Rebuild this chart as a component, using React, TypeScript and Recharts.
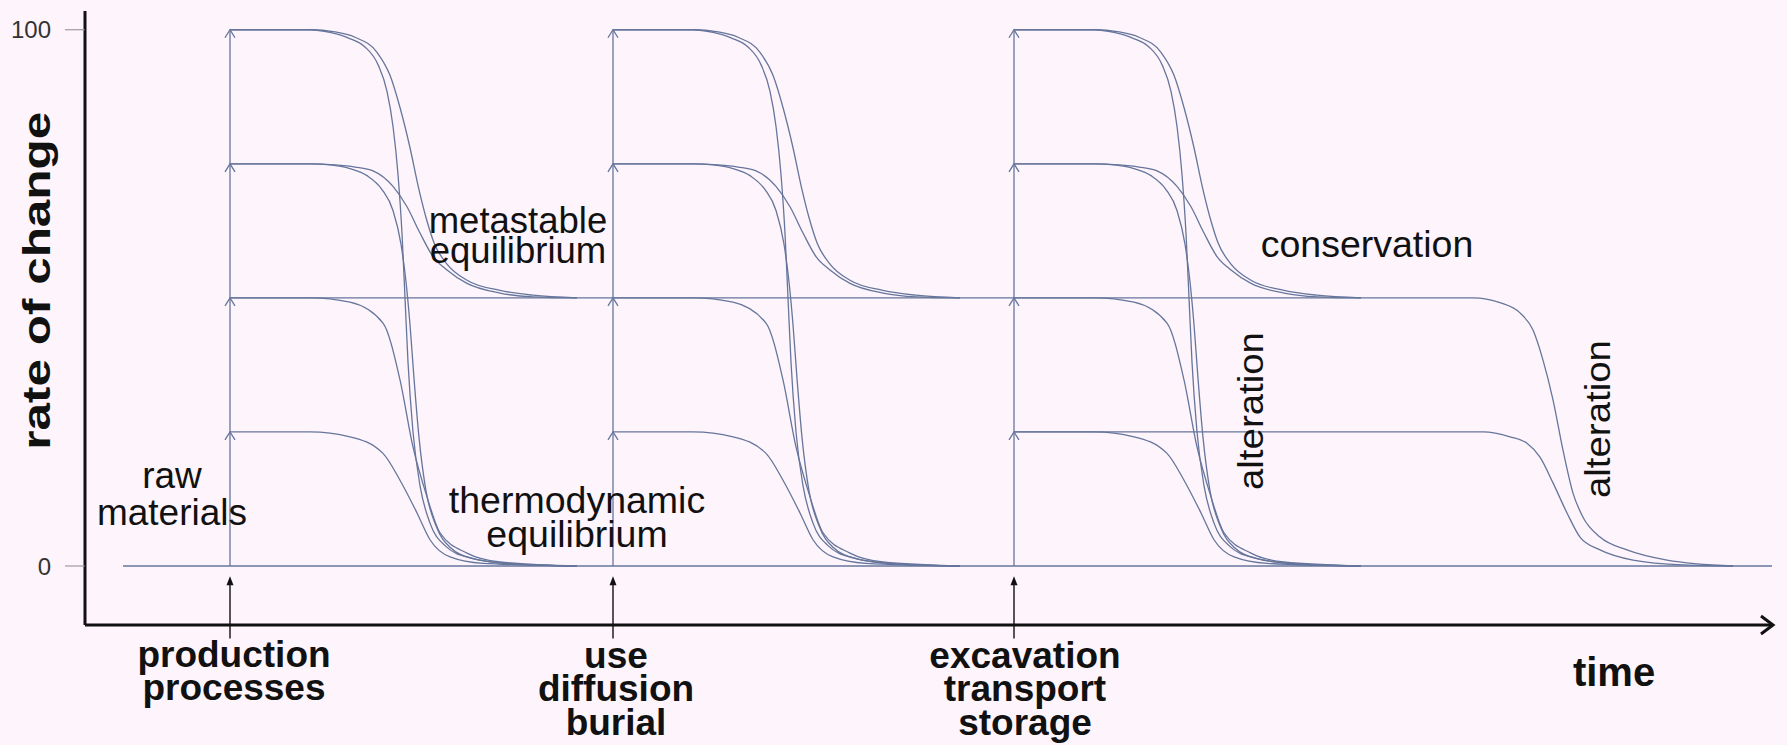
import { LineChart, Line, XAxis, YAxis, ReferenceLine, ReferenceDot } from "recharts";

const CURVE = "#66759c";
const INK = "#111";
const FONT = '"Liberation Sans", Arial, Helvetica, sans-serif';

// time at which each event hits the material (x units)
const eventTimes = [145, 528, 929];
const levels = [0, 25, 50, 75, 100];

// decay after an event: [time since event, rate of change]
const from100to50 = [[0, 100], [80, 100], [105, 99.6], [125, 98.6], [147, 95.8], [160, 91.5], [170, 85.5], [180, 78], [188, 71], [196, 65], [204, 60.3], [217, 56.3], [237, 53.3], [270, 51.4], [303, 50.5], [347, 50]];
const from100to0 = [[0, 100], [80, 100], [100, 99.5], [118, 98.5], [135, 96.8], [148, 93.5], [157, 88.5], [163, 82], [168, 73], [172, 62], [175, 50], [178, 38], [183, 25], [190, 15], [200, 8], [215, 3.8], [240, 1.5], [280, 0.4], [347, 0]];
const from75to50 = [[0, 75], [80, 75], [105, 74.8], [125, 74.4], [143, 73.7], [163, 70.8], [177, 67], [190, 62.1], [203, 57.7], [217, 55.2], [237, 52.7], [270, 50.9], [303, 50.2], [347, 50]];
const from75to0 = [[0, 75], [80, 75], [100, 74.8], [120, 74.1], [137, 72.8], [152, 70.2], [163, 66.3], [171, 60], [176, 53], [180, 45], [184, 35], [189, 24], [196, 14], [206, 7.5], [220, 3.5], [243, 1.4], [283, 0.4], [347, 0]];
const from50to0 = [[0, 50], [80, 50], [120, 49.2], [153, 45.3], [170, 34.7], [183, 22.2], [197, 12.9], [210, 6.2], [237, 2.4], [270, 0.75], [347, 0]];
const from25to0 = [[0, 25], [80, 25], [120, 24.1], [153, 21], [170, 16], [187, 9.9], [200, 4.9], [220, 1.7], [253, 0.5], [347, 0]];

// long-lived lines: [time, rate]
const baseline = [[38, 0], [1687, 0]];
const conservation50 = [[145, 50], [1388, 50], [1415, 49.1], [1435, 47.2], [1448, 44], [1458, 38.4], [1468, 31], [1478, 21.6], [1488, 13.6], [1498, 9.1], [1515, 5.4], [1542, 3], [1582, 1.1], [1648, 0]];
const conservation25 = [[929, 25], [1398, 25], [1425, 24.1], [1442, 22.9], [1455, 20.3], [1468, 15.5], [1482, 9.9], [1495, 5.4], [1515, 3], [1548, 1.1], [1598, 0.2], [1648, 0]];

const toRows = (pts: number[][], t0 = 0) => pts.map(([t, v]) => ({ t: t0 + t, v }));

const series = [
  toRows(baseline),
  toRows(conservation50),
  toRows(conservation25),
  ...eventTimes.flatMap((t0) =>
    [from100to50, from100to0, from75to50, from75to0, from50to0, from25to0].map((p) => toRows(p, t0))
  ),
];

type Note = { t: number; v: number; lines: string[]; size: number; gap?: number; bold?: boolean; vertical?: boolean; length?: number };

const notes: Note[] = [
  { t: 433, v: 62.1, lines: ["metastable", "equilibrium"], size: 36.5, gap: 29.5 },
  { t: 492, v: 9.9, lines: ["thermodynamic", "equilibrium"], size: 37.5, gap: 34 },
  { t: 87, v: 14.5, lines: ["raw", "materials"], size: 37, gap: 37 },
  { t: 1282, v: 57.6, lines: ["conservation"], size: 37.5 },
  { t: 1178, v: 28.9, lines: ["alteration"], size: 35, vertical: true, length: 158 },
  { t: 1525, v: 27.4, lines: ["alteration"], size: 35, vertical: true, length: 158 },
  { t: 149, v: -18.8, lines: ["production", "processes"], size: 37, gap: 33, bold: true },
  { t: 531, v: -19, lines: ["use", "diffusion", "burial"], size: 37, gap: 33.5, bold: true },
  { t: 940, v: -19, lines: ["excavation", "transport", "storage"], size: 37, gap: 33.5, bold: true },
  { t: 1529, v: -22.4, lines: ["time"], size: 40, bold: true },
  { t: -35, v: 53.2, lines: ["rate of change"], size: 38, bold: true, vertical: true, length: 338 },
];

const noteShape = (n: Note) => (p: any) => {
  const common = {
    fontSize: n.size,
    fontFamily: FONT,
    fontWeight: n.bold ? 700 : 400,
    fill: INK,
  };
  if (n.vertical) {
    const len = n.length ?? 0;
    const y0 = p.cy + len / 2;
    return (
      <text x={p.cx} y={y0} transform={`rotate(-90 ${p.cx} ${y0})`} textAnchor="start" textLength={len} lengthAdjust="spacingAndGlyphs" {...common}>
        {n.lines[0]}
      </text>
    );
  }
  return (
    <text x={p.cx} y={p.cy} textAnchor="middle" {...common}>
      {n.lines.map((l, i) => (
        <tspan key={i} x={p.cx} dy={i === 0 ? 0 : n.gap}>
          {l}
        </tspan>
      ))}
    </text>
  );
};

const OpenArrow = (p: any) => {
  const { x1, y1, x2, y2 } = p;
  return (
    <g>
      <line x1={x1} y1={y1} x2={x2} y2={y2} stroke={CURVE} strokeWidth={1.3} />
      <polyline points={`${x2 - 5},${y2 + 8} ${x2},${y2} ${x2 + 5},${y2 + 8}`} fill="none" stroke={CURVE} strokeWidth={1.3} />
    </g>
  );
};

const SolidArrow = (p: any) => {
  const { x1, y1, x2, y2 } = p;
  return (
    <g>
      <line x1={x1} y1={y1} x2={x2} y2={y2 + 6} stroke={INK} strokeWidth={1.4} />
      <polygon points={`${x2 - 3.5},${y2 + 9} ${x2},${y2} ${x2 + 3.5},${y2 + 9}`} fill={INK} />
    </g>
  );
};

const AxisHead = (p: any) => (
  <polyline points={`${p.cx - 12},${p.cy - 9} ${p.cx},${p.cy} ${p.cx - 12},${p.cy + 9}`} fill="none" stroke={INK} strokeWidth={3} />
);

export default function App() {
  return (
    <div style={{ position: "absolute", left: 0, top: 0, width: 1787, height: 745, background: "#fdf5fb" }}>
      <LineChart width={1787} height={745} margin={{ top: 11, right: 14, bottom: 0, left: 0 }}>
        <XAxis
          type="number"
          dataKey="t"
          domain={[0, 1688]}
          allowDataOverflow
          height={120}
          axisLine={{ stroke: INK, strokeWidth: 3 }}
          tick={false}
          tickLine={false}
        />
        <YAxis
          type="number"
          domain={[-11, 103.5]}
          allowDataOverflow
          ticks={[0, 100]}
          interval={0}
          width={85}
          axisLine={{ stroke: INK, strokeWidth: 3 }}
          tickLine={{ stroke: "#8a8a8a", strokeWidth: 1 }}
          tickSize={20}
          tickMargin={14}
          tick={{ fill: "#333", fontSize: 24, fontFamily: FONT }}
        />
        {series.map((rows, i) => (
          <Line
            key={i}
            data={rows}
            dataKey="v"
            type="monotone"
            stroke={CURVE}
            strokeWidth={1.3}
            dot={false}
            activeDot={false}
            legendType="none"
            isAnimationActive={false}
          />
        ))}
        {eventTimes.flatMap((t0) =>
          levels.slice(1).map((lv, k) => (
            <ReferenceLine
              key={`up-${t0}-${lv}`}
              segment={[{ x: t0, y: levels[k] }, { x: t0, y: lv }]}
              ifOverflow="visible"
              shape={OpenArrow}
            />
          ))
        )}
        {eventTimes.map((t0) => (
          <ReferenceLine
            key={`ev-${t0}`}
            segment={[{ x: t0, y: -13.5 }, { x: t0, y: -1.9 }]}
            ifOverflow="visible"
            shape={SolidArrow}
          />
        ))}
        <ReferenceDot x={1688} y={-11} r={0} ifOverflow="visible" shape={AxisHead} />
        {notes.map((n, i) => (
          <ReferenceDot key={`n-${i}`} x={n.t} y={n.v} r={0} ifOverflow="visible" shape={noteShape(n)} />
        ))}
      </LineChart>
    </div>
  );
}
